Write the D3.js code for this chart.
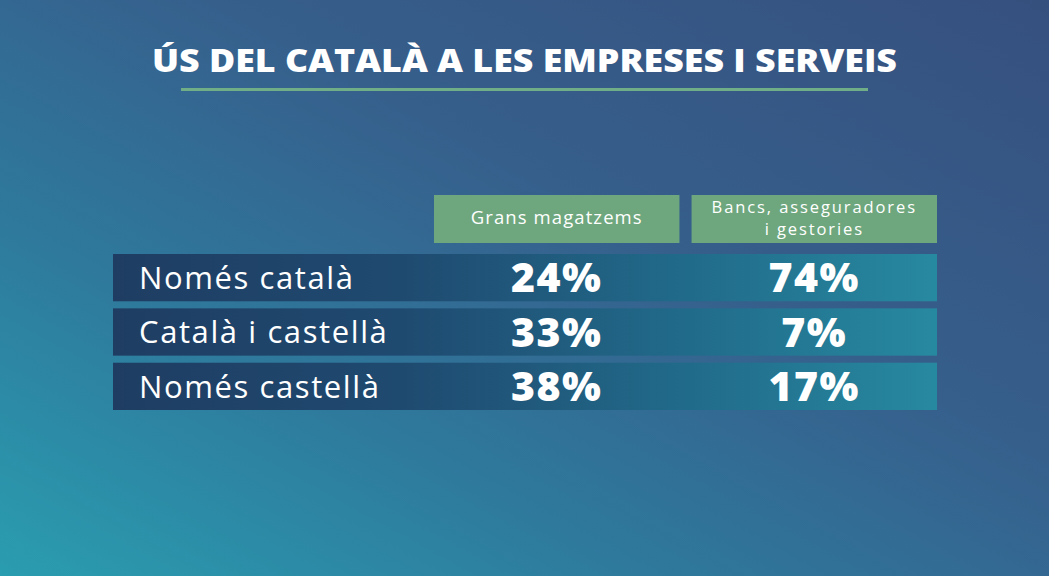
<!DOCTYPE html>
<html><head><meta charset="utf-8">
<script src="https://cdn.jsdelivr.net/npm/d3@7"></script>
<style>html,body{margin:0;padding:0;overflow:hidden;background:#2f6088}</style>
</head><body>
<svg id="chart" width="1049" height="576"></svg>
<script>
const title = "ÚS DEL CATALÀ A LES EMPRESES I SERVEIS";
const columns = ["Grans magatzems", "Bancs, asseguradores\ni gestories"];
const categories = ["Només català", "Català i castellà", "Només castellà"];
const granMagatzems = [24, 33, 38];
const bancs = [74, 7, 17];

const W = 1049, H = 576;
const svg = d3.select("#chart");
const defs = svg.append("defs");

const bg = defs.append("linearGradient").attr("id","bg")
  .attr("x1","0").attr("y1","1").attr("x2","1").attr("y2","0");
bg.append("stop").attr("offset","0").attr("stop-color","#2a9db0");
bg.append("stop").attr("offset","0.3").attr("stop-color","#2e7a9d");
bg.append("stop").attr("offset","0.6").attr("stop-color","#365f8c");
bg.append("stop").attr("offset","1").attr("stop-color","#36507e");
svg.append("rect").attr("width",W).attr("height",H).attr("fill","url(#bg)");

const rowG = defs.append("linearGradient").attr("id","rowg")
  .attr("x1","0").attr("y1","0").attr("x2","1").attr("y2","0");
rowG.append("stop").attr("offset","0").attr("stop-color","#1f3d63");
rowG.append("stop").attr("offset","0.35").attr("stop-color","#1f4a70");
rowG.append("stop").attr("offset","0.7").attr("stop-color","#216b8a");
rowG.append("stop").attr("offset","1").attr("stop-color","#2789a0");

// title
svg.append("text").attr("x",524.5).attr("y",72).attr("text-anchor","middle")
  .attr("font-family","'Open Sans', sans-serif").attr("font-weight",800)
  .attr("font-size",31).attr("fill","#ffffff")
  .attr("textLength",745).attr("lengthAdjust","spacingAndGlyphs")
  .text(title);
svg.append("rect").attr("x",181).attr("y",88).attr("width",687).attr("height",3).attr("fill","#6fae86");

// scales
const x = d3.scaleBand().domain(columns).range([434, 937]).paddingInner(0.047);
const y = d3.scaleBand().domain(categories).range([254, 410]).paddingInner(0.13);

// headers
const hdr = svg.append("g").selectAll("g").data(columns).join("g");
hdr.append("rect").attr("x",d=>x(d)).attr("y",195).attr("width",x.bandwidth()).attr("height",48)
  .attr("fill","#6ea77e");
hdr.each(function(d){
  const lines = d.split("\n");
  const cy = 218, lh = 22.5;
  const g = d3.select(this);
  lines.forEach((l,i)=>{
    g.append("text").attr("x", x(d)+x.bandwidth()/2)
      .attr("y", cy + (i-(lines.length-1)/2)*lh)
      .attr("dy","0.35em").attr("text-anchor","middle")
      .attr("font-family","'Open Sans', sans-serif").attr("font-weight",400)
      .attr("font-size", lines.length > 1 ? 16.5 : 18.5)
      .attr("letter-spacing", lines.length > 1 ? 1.9 : 1.1)
      .attr("fill","#ffffff").text(l);
  });
});

// rows
const rows = svg.append("g").selectAll("g").data(categories).join("g");
rows.append("rect").attr("x",113).attr("y",d=>y(d)).attr("width",937-113).attr("height",y.bandwidth())
  .attr("fill","url(#rowg)");
rows.append("text").attr("x",139).attr("y",d=>y(d)+y.bandwidth()/2).attr("dy","0.36em")
  .attr("font-family","'Open Sans', sans-serif").attr("font-weight",400)
  .attr("font-size",31).attr("letter-spacing",1.6).attr("fill","#ffffff").text(d=>d);

const series = [granMagatzems, bancs];
series.forEach((vals, ci)=>{
  svg.append("g").selectAll("text").data(categories).join("text")
    .attr("x", x(columns[ci]) + x.bandwidth()/2)
    .attr("y", d=>y(d)+y.bandwidth()/2).attr("dy","0.36em")
    .attr("text-anchor","middle")
    .attr("font-family","'Open Sans', sans-serif").attr("font-weight",800)
    .attr("font-size",41).attr("letter-spacing",1.5).attr("fill","#ffffff")
    .text((d,i)=>vals[i]+"%");
});
</script>
</body></html>
